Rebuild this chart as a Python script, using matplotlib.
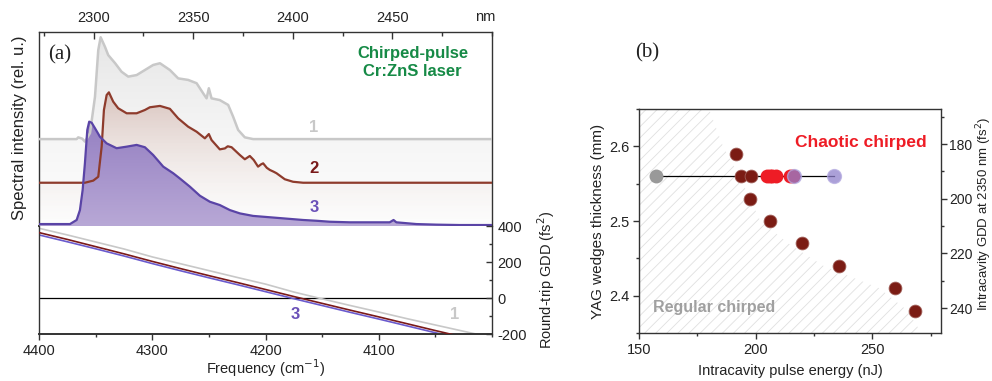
import numpy as np
import matplotlib
matplotlib.use("Agg")
import matplotlib.pyplot as plt
from matplotlib.colors import to_rgb
from matplotlib.ticker import MultipleLocator

plt.rcParams['font.family'] = ['Liberation Sans', 'DejaVu Sans']
plt.rcParams['hatch.linewidth'] = 0.6
plt.rcParams['axes.unicode_minus'] = False

# ---------------- Panel (a) data ----------------
# Spectra (frequency cm^-1, relative intensity incl. vertical offset)
spec1_f = [4400, 4367.0, 4365.6, 4362.0, 4359.7, 4355.2, 4350.8, 4347.9, 4345.8, 4342.0, 4339.1,
           4333.0, 4327.3, 4321.4, 4314.0, 4306.7, 4299.4, 4293.4, 4284.6, 4277.3, 4268.5,
           4261.0, 4255.2, 4252.2, 4250.2, 4247.8, 4240.5, 4233.1, 4228.7, 4224.3, 4218.4,
           4211.1, 4000]
spec1_v = [0.448, 0.448, 0.457, 0.450, 0.435, 0.479, 0.666, 0.907, 0.973, 0.924, 0.881,
           0.839, 0.795, 0.770, 0.778, 0.804, 0.830, 0.839, 0.804, 0.761, 0.753,
           0.736, 0.684, 0.658, 0.710, 0.658, 0.649, 0.624, 0.563, 0.495, 0.457,
           0.448, 0.448]

spec2_f = [4400, 4359.7, 4352.3, 4347.9, 4344.9, 4342.9, 4340.5, 4338.5, 4334.7, 4330.3,
           4322.8, 4314.0, 4306.7, 4302.3, 4293.4, 4284.6, 4277.3, 4268.5, 4261.0, 4253.7,
           4250.2, 4247.8, 4240.5, 4236.0, 4233.5, 4230.1, 4222.8, 4218.4, 4214.0, 4210.5,
           4208.5, 4206.7, 4204.0, 4202.2, 4199.0, 4196.3, 4193.0, 4190.4, 4183.1, 4175.8,
           4166.9, 4000]
spec2_v = [0.223, 0.223, 0.234, 0.254, 0.409, 0.598, 0.675, 0.689, 0.641, 0.607,
           0.581, 0.581, 0.598, 0.612, 0.619, 0.604, 0.555, 0.512, 0.486, 0.452,
           0.474, 0.443, 0.395, 0.400, 0.411, 0.406, 0.366, 0.344, 0.361, 0.340,
           0.322, 0.306, 0.318, 0.323, 0.300, 0.289, 0.280, 0.272, 0.241, 0.228,
           0.223, 0.223]

spec3_f = [4400, 4372.9, 4367.0, 4364.1, 4361.7, 4359.7, 4357.6, 4355.9, 4353.7, 4350.8,
           4346.4, 4340.5, 4331.7, 4322.8, 4314.0, 4306.7, 4299.4, 4290.5, 4281.7, 4275.8,
           4267.0, 4258.1, 4249.3, 4240.5, 4231.6, 4222.8, 4211.1, 4196.3, 4181.6, 4166.9,
           4155.1, 4143.4, 4125.7, 4110.9, 4090.4, 4087.0, 4084.5, 4066.8, 4049.2, 4028.6,
           4000]
spec3_v = [0.010, 0.010, 0.031, 0.082, 0.186, 0.323, 0.495, 0.538, 0.532, 0.504,
           0.460, 0.426, 0.401, 0.409, 0.418, 0.406, 0.366, 0.306, 0.272, 0.245,
           0.203, 0.156, 0.125, 0.108, 0.082, 0.065, 0.052, 0.045, 0.038, 0.031,
           0.027, 0.022, 0.019, 0.019, 0.019, 0.031, 0.019, 0.010, 0.007, 0.005,
           0.005]

# Round-trip GDD (fs^2)
gdd_f = [4400, 4375, 4350, 4325, 4300, 4275, 4250, 4225, 4200, 4175, 4150, 4125, 4100,
         4075, 4050, 4025, 4000]
gdd1 = [387, 350, 311, 272, 228, 190, 152, 114, 77, 33, -5, -42, -78, -115, -150, -185, -220]
gdd2 = [363, 325, 285, 245, 203, 163, 124, 86, 47, 8, -30, -68, -105, -143, -181, -218, -255]
gdd3 = [350, 312, 273, 233, 191, 151, 112, 74, 35, -4, -42, -80, -117, -155, -193, -230, -267]

# ---------------- Panel (b) data ----------------
brown_E = [191.5, 193.6, 197.9, 197.7, 206.0, 219.7, 235.7, 259.7, 268.3]
brown_t = [2.59, 2.56, 2.56, 2.53, 2.50, 2.47, 2.44, 2.41, 2.38]
red_E = [204.7, 206.0, 207.0, 208.6, 214.7, 216.0]
red_t = [2.56, 2.56, 2.56, 2.56, 2.56, 2.56]
purple_E = [216.6, 233.6]
purple_t = [2.56, 2.56]
gray_E = [157.3]
gray_t = [2.56]
line_E = [157.3, 233.6]
line_t = [2.56, 2.56]
# boundary of the "regular chirped" (hatched) region
bound_t = [2.65, 2.60, 2.56, 2.50, 2.47, 2.44, 2.41, 2.38, 2.35]
bound_E = [180.0, 186.0, 193.0, 202.0, 214.0, 229.0, 253.0, 265.0, 271.0]

# ---------------- Figure ----------------
W, H = 992, 381
fig = plt.figure(figsize=(W / 100, H / 100), dpi=100)

def fr(x0, y0, x1, y1):
    return [x0 / W, 1 - y1 / H, (x1 - x0) / W, (y1 - y0) / H]

SP = '#333333'
TX = '#222222'
ax_s = fig.add_axes(fr(39.3, 32, 492, 226))
ax_g = fig.add_axes(fr(39.3, 226, 492, 334))
ax_b = fig.add_axes(fr(639, 109, 941, 333))

C1, C2, C3 = '#c8c8c8', '#8e3b2c', '#5a44a6'


def grad_fill(ax, x, y, y0, ctop, cbot, atop, abot, z):
    poly = ax.fill_between(x, y, y0, facecolor='none', edgecolor='none')
    path = poly.get_paths()[0]
    n = 256
    t = np.linspace(0, 1, n)[:, None]
    ct, cb = np.array(to_rgb(ctop)), np.array(to_rgb(cbot))
    rgba = np.zeros((n, 1, 4))
    rgba[:, 0, :3] = cb + (ct - cb) * t
    rgba[:, 0, 3] = (abot + (atop - abot) * t)[:, 0]
    im = ax.imshow(rgba, aspect='auto', extent=[min(x), max(x), y0, max(y)],
                   origin='lower', zorder=z, interpolation='bilinear')
    im.set_clip_path(path, transform=ax.transData)


grad_fill(ax_s, spec1_f, spec1_v, 0, '#c0c0c0', '#e0e0e0', 0.40, 0.05, 1)
grad_fill(ax_s, spec2_f, spec2_v, 0, '#b88070', '#e8d4cc', 0.38, 0.0, 2)
grad_fill(ax_s, spec3_f, spec3_v, 0, '#9580c2', '#b8a8d6', 1.0, 1.0, 3)
ax_s.plot(spec1_f, spec1_v, color=C1, lw=1.8, zorder=4)
ax_s.plot(spec2_f, spec2_v, color=C2, lw=1.6, zorder=5)
ax_s.plot(spec3_f, spec3_v, color=C3, lw=1.6, zorder=6)
ax_s.set_xlim(4400, 4000)
ax_s.set_ylim(0, 1)
ax_s.set_xticks([])
ax_s.set_yticks([])
for s in ax_s.spines.values():
    s.set_color(SP)
    s.set_linewidth(1.0)
ax_s.spines['bottom'].set_linewidth(1.4)
ax_s.text(4158, 0.51, '1', color=C1, fontsize=12, fontweight='bold', ha='center', va='center')
ax_s.text(4157, 0.294, '2', color='#7a1a1a', fontsize=12, fontweight='bold', ha='center', va='center')
ax_s.text(4157, 0.093, '3', color='#6a50b8', fontsize=12, fontweight='bold', ha='center', va='center')
ax_s.text(0.046, 0.88, '(a)', transform=ax_s.transAxes, fontsize=15,
          family=['Liberation Serif'], ha='center', va='center', color=TX)
ax_s.text(0.825, 0.843, 'Chirped-pulse\nCr:ZnS laser', transform=ax_s.transAxes, fontsize=12,
          fontweight='bold', color='#168a46', ha='center', va='center', linespacing=1.25)

# top wavelength axis
ax_t = ax_s.twiny()
ax_t.set_xlim(1e7 / 4400, 1e7 / 4000)
ax_t.set_xticks([2300, 2350, 2400, 2450])
ax_t.xaxis.set_minor_locator(MultipleLocator(25))
ax_t.tick_params(axis='x', which='major', direction='in', length=5, width=1, color=SP,
                 labelsize=10.5, pad=5, labelcolor=TX)
ax_t.tick_params(axis='x', which='minor', direction='in', length=3, width=1, color=SP)
for s in ax_t.spines.values():
    s.set_visible(False)
fig.text(485 / W, 1 - 17 / H, 'nm', fontsize=10.5, ha='center', va='center', color=TX)

fig.text(20 / W, 1 - 128 / H, 'Spectral intensity (rel. u.)', rotation=90, fontsize=12,
         ha='center', va='center', color=TX)

# GDD panel
ax_g.axhline(0, color='black', lw=0.9, zorder=1)
ax_g.plot(gdd_f, gdd1, color=C1, lw=1.2, zorder=2)
ax_g.plot(gdd_f, gdd2, color='#7a1a1a', lw=1.2, zorder=3)
ax_g.plot(gdd_f, gdd3, color='#6a5acd', lw=1.2, zorder=2)
ax_g.set_xlim(4400, 4000)
ax_g.set_ylim(-200, 400)
ax_g.spines['top'].set_visible(False)
for k in ['left', 'right', 'bottom']:
    ax_g.spines[k].set_color(SP)
    ax_g.spines[k].set_linewidth(1.0)
ax_g.spines['bottom'].set_linewidth(1.4)
ax_g.set_xticks([4400, 4300, 4200, 4100])
ax_g.xaxis.set_minor_locator(MultipleLocator(50))
ax_g.tick_params(axis='x', which='major', direction='out', length=4, width=1, color=SP,
                 labelsize=10.5, pad=3, labelcolor=TX)
ax_g.tick_params(axis='x', which='minor', direction='out', length=2, width=1, color=SP)
ax_g.yaxis.tick_right()
ax_g.yaxis.set_label_position('right')
ax_g.set_yticks([400, 200, 0, -200])
ax_g.yaxis.set_minor_locator(MultipleLocator(100))
ax_g.tick_params(axis='y', which='major', direction='in', length=4.5, width=1, color=SP,
                 labelsize=10.5, pad=4, labelcolor=TX)
ax_g.tick_params(axis='y', which='minor', direction='in', length=2.5, width=1, color=SP)
ax_g.set_xlabel('Frequency (cm$^{-1}$)', fontsize=10.5, labelpad=0, color=TX)
ax_g.set_ylabel('Round-trip GDD (fs$^{2}$)', fontsize=10.5, labelpad=6, color=TX)
ax_g.text(4033, -93, '1', color=C1, fontsize=12, fontweight='bold', ha='center', va='center')
ax_g.text(4174, -93, '3', color='#6a50b8', fontsize=12, fontweight='bold', ha='center', va='center')

# ---------------- Panel (b) ----------------
ax_b.fill_betweenx(bound_t, 150, bound_E, facecolor='none', edgecolor='#e0e0e0',
                   hatch='///', linewidth=0, zorder=0)
ax_b.plot(line_E, line_t, color='black', lw=0.9, zorder=2)
ax_b.scatter(gray_E, gray_t, s=100, color='#999999', zorder=3, linewidths=0)
ax_b.scatter(brown_E, brown_t, s=85, color='#7b1c14', zorder=4, edgecolors='#a0605a',
             linewidths=0.6)
ax_b.scatter(red_E, red_t, s=100, color='#ee1c25', zorder=5, linewidths=0)
ax_b.scatter(purple_E, purple_t, s=100, color='#8f80cc', alpha=0.75, zorder=6,
             edgecolors='#b5abe0', linewidths=1.0)
ax_b.set_xlim(150, 279.4)
ax_b.set_ylim(2.35, 2.65)
ax_b.set_xticks([150, 200, 250])
ax_b.xaxis.set_minor_locator(MultipleLocator(25))
ax_b.set_yticks([2.4, 2.5, 2.6])
ax_b.yaxis.set_minor_locator(MultipleLocator(0.05))
ax_b.tick_params(which='major', direction='out', length=4, width=1, color=SP,
                 labelsize=10.5, pad=3, labelcolor=TX)
ax_b.tick_params(which='minor', direction='out', length=2.5, width=1, color=SP)
for s in ax_b.spines.values():
    s.set_color(SP)
    s.set_linewidth(1.0)
ax_b.set_xlabel('Intracavity pulse energy (nJ)', fontsize=10.5, labelpad=5, color=TX)
ax_b.set_ylabel('YAG wedges thickness (mm)', fontsize=11, labelpad=3, color=TX)
ax_b.text(0.735, 0.85, 'Chaotic chirped', transform=ax_b.transAxes, color='#ee1c25',
          fontsize=12.5, fontweight='bold', ha='center', va='center')
ax_b.text(0.25, 0.115, 'Regular chirped', transform=ax_b.transAxes, color='#a0a0a0',
          fontsize=11.5, fontweight='bold', ha='center', va='center')

# right axis: intracavity GDD (inverted)
ax_r = ax_b.twinx()
ax_r.set_ylim(249.1, 167.2)
ax_r.set_yticks([180, 200, 220, 240])
ax_r.yaxis.set_minor_locator(MultipleLocator(10))
ax_r.tick_params(which='major', direction='out', length=4, width=1, color=SP,
                 labelsize=10, pad=2, labelcolor=TX)
ax_r.tick_params(which='minor', direction='out', length=2.5, width=1, color=SP)
for s in ax_r.spines.values():
    s.set_visible(False)
fig.text(984 / W, 1 - 214 / H, 'Intracavity GDD at 2350 nm (fs$^{2}$)', rotation=90,
         fontsize=9.5, ha='center', va='center', color=TX)

fig.text(647 / W, 1 - 53 / H, '(b)', fontsize=15, family=['Liberation Serif'],
         ha='center', va='center', color=TX)

fig.savefig('out.png', dpi=100)
